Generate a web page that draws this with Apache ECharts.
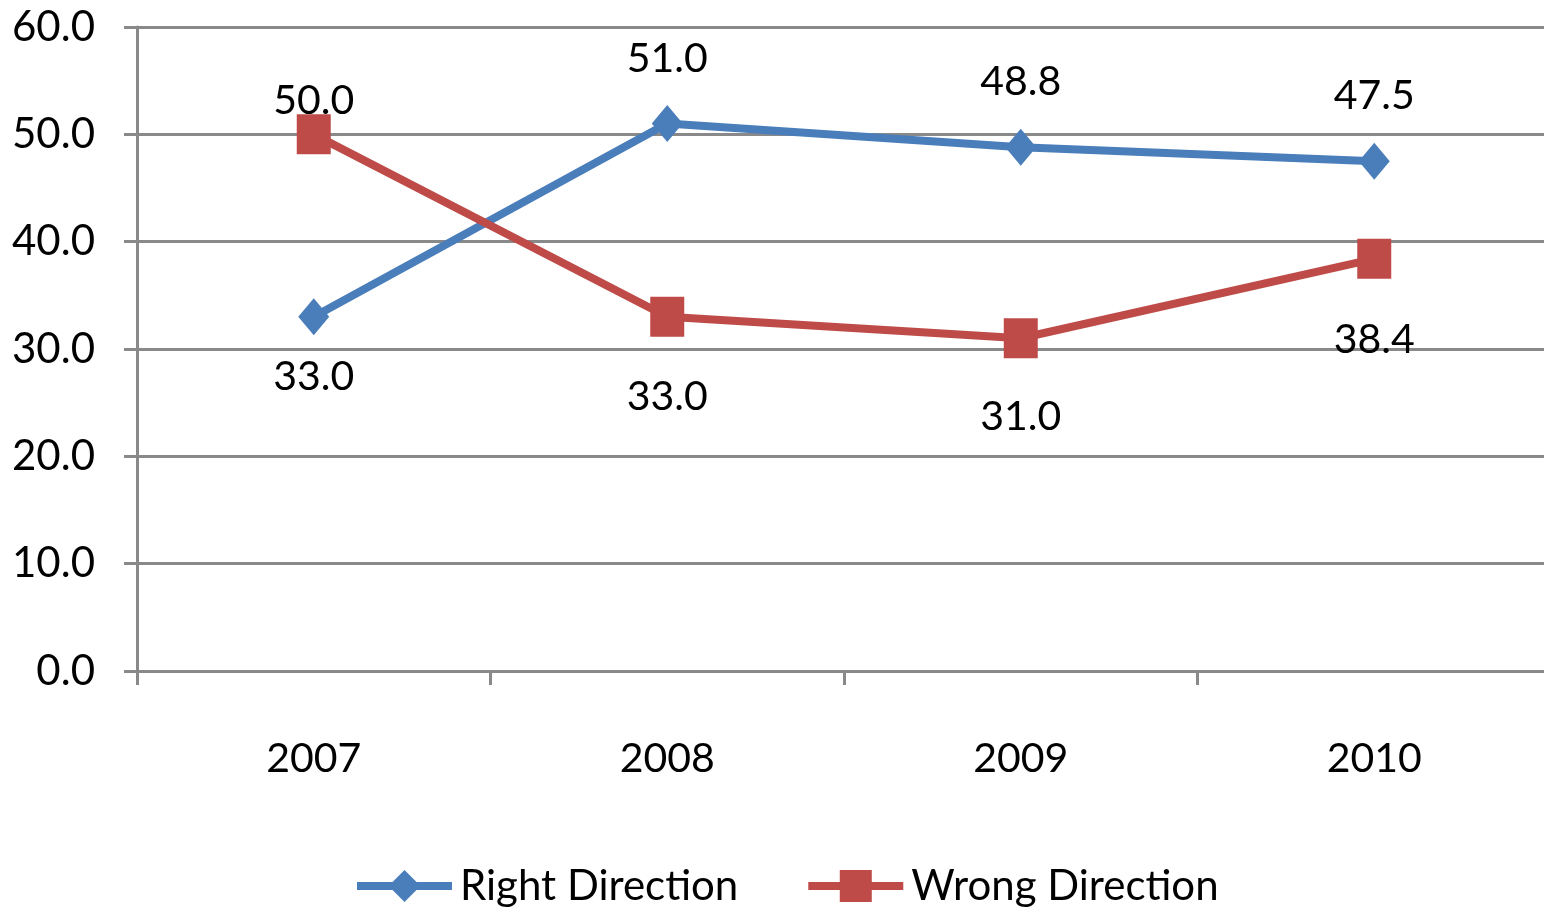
<!DOCTYPE html>
<html><head><meta charset="utf-8">
<script src="https://cdn.jsdelivr.net/npm/echarts@6/dist/echarts.min.js"></script>
<style>html,body{margin:0;padding:0;background:#fff}#c{width:1544px;height:911px}</style>
</head><body><div id="c"></div>
<script>
const categories = ['2007', '2008', '2009', '2010'];
const rightDirection = [33.0, 51.0, 48.8, 47.5];
const wrongDirection = [50.0, 33.0, 31.0, 38.4];
const rightLabelPos = ['bottom', 'top', 'top', 'top'];
const wrongLabelPos = ['top', 'bottom', 'bottom', 'bottom'];
const rightLabelDist = [21, 26, 26, 26];
const wrongLabelDist = [-7, 39, 38, 40];

const FONT = 'Lato';
const GRAY = '#898989';
function mk(vals, pos, dist) {
  return vals.map((v, i) => ({ value: v, label: { position: pos[i], distance: dist[i] } }));
}
const chart = echarts.init(document.getElementById('c'), null, { renderer: 'canvas' });
chart.setOption({
  animation: false,
  textStyle: { fontFamily: FONT },
  grid: { left: 137, width: 1414, top: 27, bottom: 240, containLabel: false, outerBoundsMode: 'none' },
  xAxis: {
    type: 'category', data: categories, boundaryGap: true,
    axisLine: { lineStyle: { color: GRAY, width: 3 } },
    axisTick: { show: true, length: 14, lineStyle: { color: GRAY, width: 3 } },
    axisLabel: { color: '#000', fontSize: 41, fontFamily: FONT, margin: 67 }
  },
  yAxis: {
    type: 'value', min: 0, max: 60, interval: 10,
    axisLine: { show: true, lineStyle: { color: GRAY, width: 3 } },
    axisTick: { show: true, length: 13, lineStyle: { color: GRAY, width: 3 } },
    splitLine: { lineStyle: { color: GRAY, width: 3 } },
    axisLabel: { color: '#000', fontSize: 42, fontFamily: FONT, margin: 42, formatter: v => v.toFixed(1) }
  },
  legend: {
    bottom: -1, left: 348, itemWidth: 95, itemHeight: 40, itemGap: 66,
    textStyle: { color: '#000', fontSize: 42, fontFamily: FONT, padding: [0, 0, 0, 3] },
    data: [
      { name: 'Right Direction', lineStyle: { width: 8 } },
      { name: 'Wrong Direction', lineStyle: { width: 8 } }
    ]
  },
  series: [
    {
      name: 'Right Direction', type: 'line', data: mk(rightDirection, rightLabelPos, rightLabelDist),
      symbol: 'diamond', symbolSize: [31, 37],
      lineStyle: { color: '#4A7EBB', width: 8 }, itemStyle: { color: '#4A7EBB' },
      label: { show: true, color: '#000', fontSize: 41, fontFamily: FONT, formatter: p => p.value.toFixed(1) }
    },
    {
      name: 'Wrong Direction', type: 'line', data: mk(wrongDirection, wrongLabelPos, wrongLabelDist),
      symbol: 'rect', symbolSize: [34, 40],
      lineStyle: { color: '#BE4B48', width: 8 }, itemStyle: { color: '#BE4B48' },
      label: { show: true, color: '#000', fontSize: 41, fontFamily: FONT, formatter: p => p.value.toFixed(1) }
    }
  ]
});
</script></body></html>
